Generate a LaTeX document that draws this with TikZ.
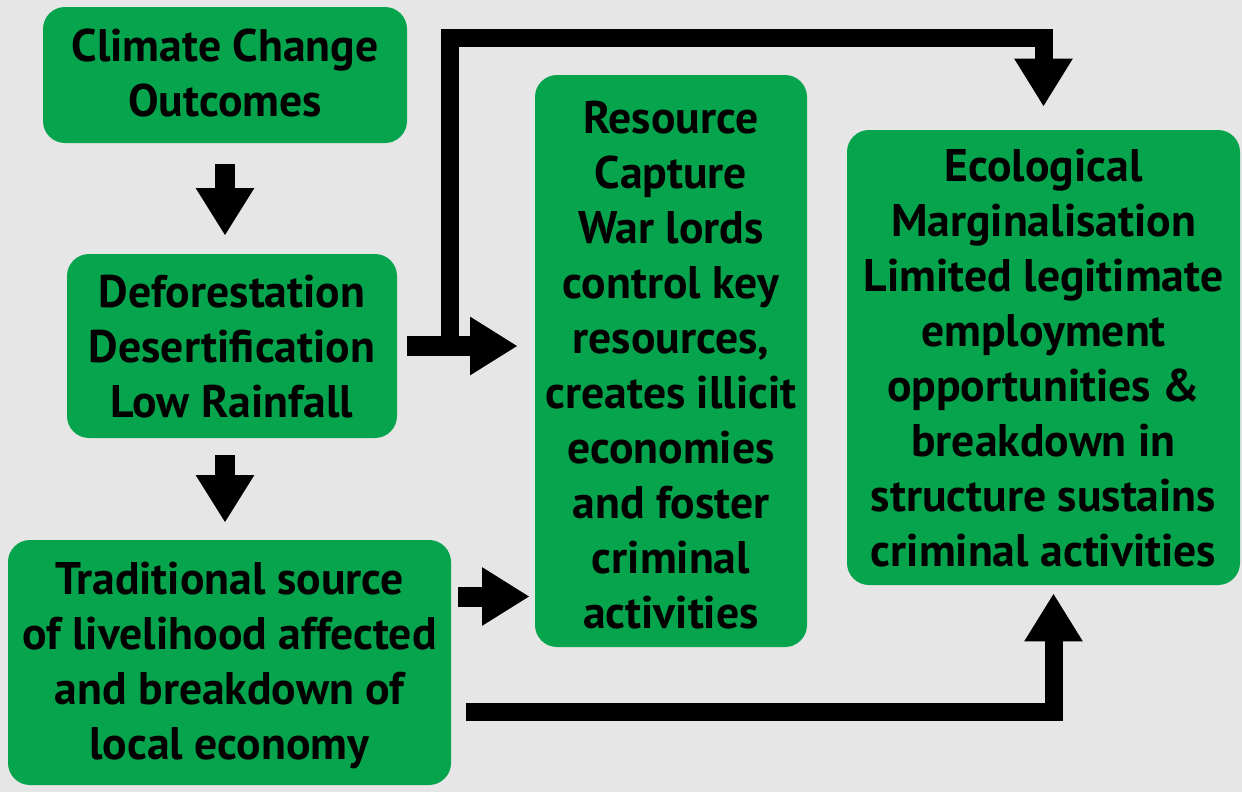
\documentclass[tikz,border=0pt]{standalone}
\usepackage{fontspec}
\setmainfont{PT Sans}
\usetikzlibrary{arrows.meta,fit,calc}
\definecolor{boxgreen}{RGB}{6,164,76}
\definecolor{bggray}{RGB}{230,230,230}
\begin{document}
\begin{tikzpicture}[x=0.02cm,y=-0.02cm,
  box/.style={fill=boxgreen, rounded corners=0.44cm, inner sep=0pt},
  boxtext/.style={inner sep=0pt, align=center,
    font=\fontsize{26}{31.3}\selectfont\bfseries},
  blockarrow/.style={line width=0.4cm, -{Triangle[length=0.95cm,width=1.1cm]}},
  elbow/.style={line width=0.36cm, -{Triangle[length=0.96cm,width=1.1cm]}}]
\fill[bggray] (0,0) rectangle (1242,792);
\useasboundingbox (0,0) rectangle (1242,792);
\node[box, fit={(43,7)(407,143)}] (b1) {};
\node[box, fit={(67,254)(397,438)}] (b2) {};
\node[box, fit={(8,540)(451,785)}] (b3) {};
\node[box, fit={(535,75)(807,647)}] (b4) {};
\node[box, fit={(847,130)(1240,585)}] (b5) {};
\node[boxtext] (t1) at ($(b1.center)+(0,-2)$) {Climate Change\\Outcomes};
\node[boxtext] (t2) at ($(b2.center)+(0,1)$) {Deforestation\\Desertification\\Low Rainfall};
\node[boxtext] (t3) at ($(b3.center)+(0,3)$) {Traditional source\\of livelihood affected\\and breakdown of\\local economy};
\node[boxtext] (t4) at ($(b4.center)+(0,4)$) {Resource\\Capture\\War lords\\control key\\resources,\\creates illicit\\economies\\and foster\\criminal\\activities};
\node[boxtext] (t5) at ($(b5.center)+(0,1)$) {Ecological\\Marginalisation\\Limited legitimate\\employment\\opportunities \&\\breakdown in\\structure sustains\\criminal activities};
% down arrows
\draw[blockarrow] ($(b1.south)+(0,21)$) -- ($(b1.south |- b2.north)+(0,-18)$);
\draw[blockarrow] ($(b1.south |- b2.south)+(0,17)$) -- ($(b1.south |- b3.north)+(0,-17)$);
% b2 -> b4
\coordinate (s2) at ($(b2.east)+(10,0)$);
\draw[blockarrow] (s2) -- ($(s2 -| b4.west)+(-17,0)$);
% b2 -> b5 (over the top)
\draw[elbow] ($(b2.east)+(53,4)$) |- ($(b5.north)+(0,-92)$) -- ($(b5.north)+(0,-23)$);
% b3 -> b4
\coordinate (s3) at ($(b3.east)+(7,-66)$);
\draw[blockarrow] (s3) -- ($(s3 -| b4.west)+(-5,0)$);
% b3 -> b5 (along the bottom)
\draw[elbow] ($(b3.east)+(15,49)$) -| ($(b5.south)+(10,8)$);
\end{tikzpicture}
\end{document}
